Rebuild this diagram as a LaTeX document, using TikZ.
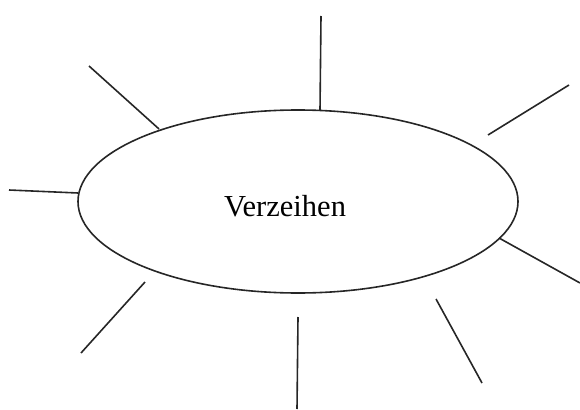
\documentclass[tikz,border=0pt]{standalone}
\usepackage{fontspec}
\setmainfont{Liberation Serif}
\usetikzlibrary{shapes.geometric}
\begin{document}
\begin{tikzpicture}[x=1pt,y=-1pt,ray/.style={line width=1.6pt,draw=black!85}]
\useasboundingbox (0,0) rectangle (580,409);
\node[ellipse,draw=black!85,line width=1.6pt,minimum width=440pt,minimum height=183pt,inner sep=0pt] (e) at (298,201.5) {};
\node[anchor=base,inner sep=0pt,font=\fontsize{30.5}{36}\selectfont] (t) at (285,216) {Verzeihen};
\coordinate (a1) at (321,16); \coordinate (a2) at (320,110);
\coordinate (b1) at (89,66); \coordinate (b2) at (159,129);
\coordinate (c1) at (9,190); \coordinate (c2) at (78,193);
\coordinate (d1) at (488,135); \coordinate (d2) at (569,85);
\coordinate (f1) at (499,238); \coordinate (f2) at (580,283);
\coordinate (g1) at (436,299); \coordinate (g2) at (482,383);
\coordinate (h1) at (298,317); \coordinate (h2) at (297,409);
\coordinate (k1) at (145,282); \coordinate (k2) at (81,353);
\draw[ray] (a1) -- (a2);
\draw[ray] (b1) -- (b2);
\draw[ray] (c1) -- (c2);
\draw[ray] (d1) -- (d2);
\draw[ray] (f1) -- (f2);
\draw[ray] (g1) -- (g2);
\draw[ray] (h1) -- (h2);
\draw[ray] (k1) -- (k2);
\end{tikzpicture}
\end{document}
